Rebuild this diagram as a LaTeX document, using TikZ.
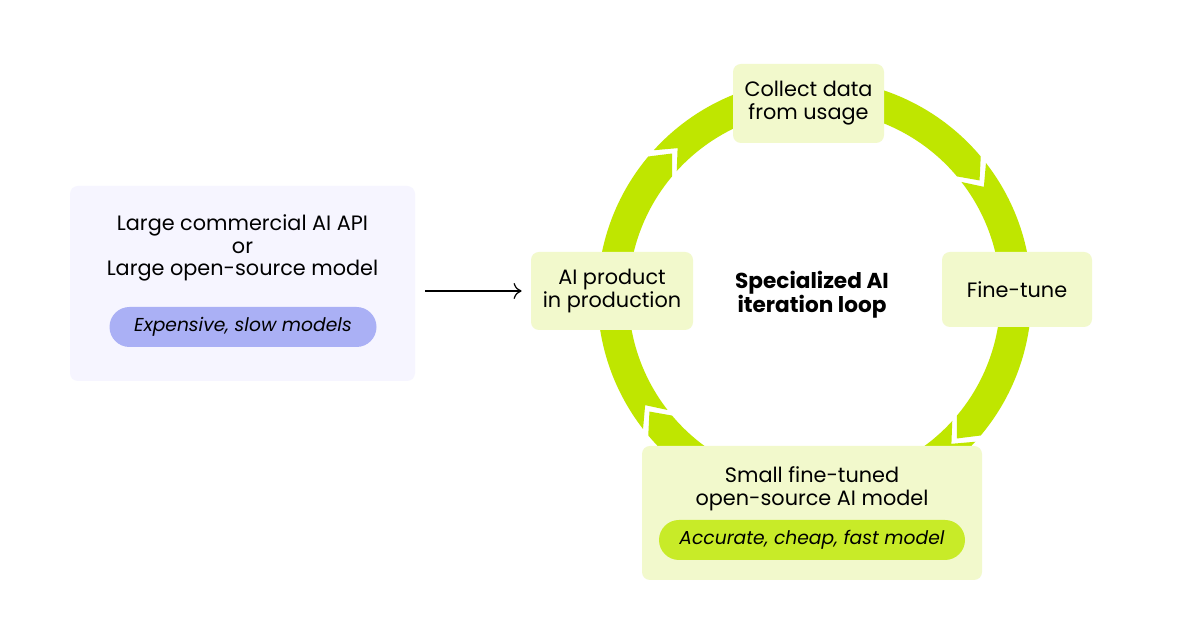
\documentclass[tikz,border=0pt]{standalone}
\usepackage{fontspec}
\setmainfont{Poppins}
\usetikzlibrary{arrows.meta,calc}

\definecolor{ringgreen}{RGB}{191,230,0}
\definecolor{boxgreen}{RGB}{242,249,204}
\definecolor{pillgreen}{RGB}{200,235,40}
\definecolor{boxlilac}{RGB}{246,245,255}
\definecolor{pilllilac}{RGB}{170,176,245}

\tikzset{
	stagebox/.style={fill=boxgreen, rounded corners=4pt, inner sep=0pt, align=center},
	pill/.style={rounded corners=10pt, minimum height=20pt, inner sep=0pt, font=\fontsize{9.35}{11}\selectfont\itshape},
	lbl/.style={align=center}
}

\begin{document}
\begin{tikzpicture}[x=0.5pt, y=0.5pt, font=\fontsize{10.4}{11.4}\selectfont]
	\useasboundingbox [fill=white] (0,0) rectangle (1200,630);
	% ring of four arrow segments
	\coordinate (c) at (814.5,334);
	\def\routr{217} \def\rinnr{186} \def\rmidl{201.5}
	\def\tipang{5} \def\gapang{2.2}
	\foreach \s/\e in {220/140, 140/40, 40/-40, -40/-140}
		\fill [ringgreen] ($(c)+(\s-\gapang:\routr)$)
			arc [start angle=\s-\gapang, end angle=\e, radius=\routr]
			-- ($(c)+(\e-\tipang:\rmidl)$) -- ($(c)+(\e:\rinnr)$)
			arc [start angle=\e, end angle=\s-\gapang, radius=\rinnr]
			-- ($(c)+(\s-\gapang-\tipang:\rmidl)$) -- cycle;
	% left box
	\node [fill=boxlilac, rounded corners=4pt, minimum width=172.5pt, minimum height=97.5pt] (large) at (242.5,346.5) {};
	\node [lbl] (largetxt) at (242.5,382) {Large commercial AI API\\or\\Large open-source model};
	\node [pill, fill=pilllilac, minimum width=133.5pt] (slow) at (243,303) {Expensive, slow models};
	% loop stages
	\node [stagebox, minimum width=81pt, minimum height=39pt] (prod) at (612,339) {AI product\\in production};
	\node [stagebox, minimum width=75.5pt, minimum height=39.5pt] (collect) at (808.5,526.5) {Collect data\\from usage};
	\node [stagebox, minimum width=75pt, minimum height=37.5pt] (tune) at (1017,340.5) {Fine-tune};
	\node [stagebox, minimum width=170pt, minimum height=67pt] (small) at (812,117) {};
	\node [lbl] (smalltxt) at (812,141.5) {Small fine-tuned\\open-source AI model};
	\node [pill, fill=pillgreen, minimum width=153pt] (fast) at (812,90) {Accurate, cheap, fast model};
	\node [lbl, font=\fontsize{10.8}{12}\selectfont\bfseries] (loop) at (812,335) {Specialized AI\\iteration loop};
	% input arrow
	\draw [-{To[length=4pt, width=8pt]}, line width=0.6pt, shorten <=5pt, shorten >=4.5pt] (large.east |- prod) -- (prod.west);
\end{tikzpicture}
\end{document}
